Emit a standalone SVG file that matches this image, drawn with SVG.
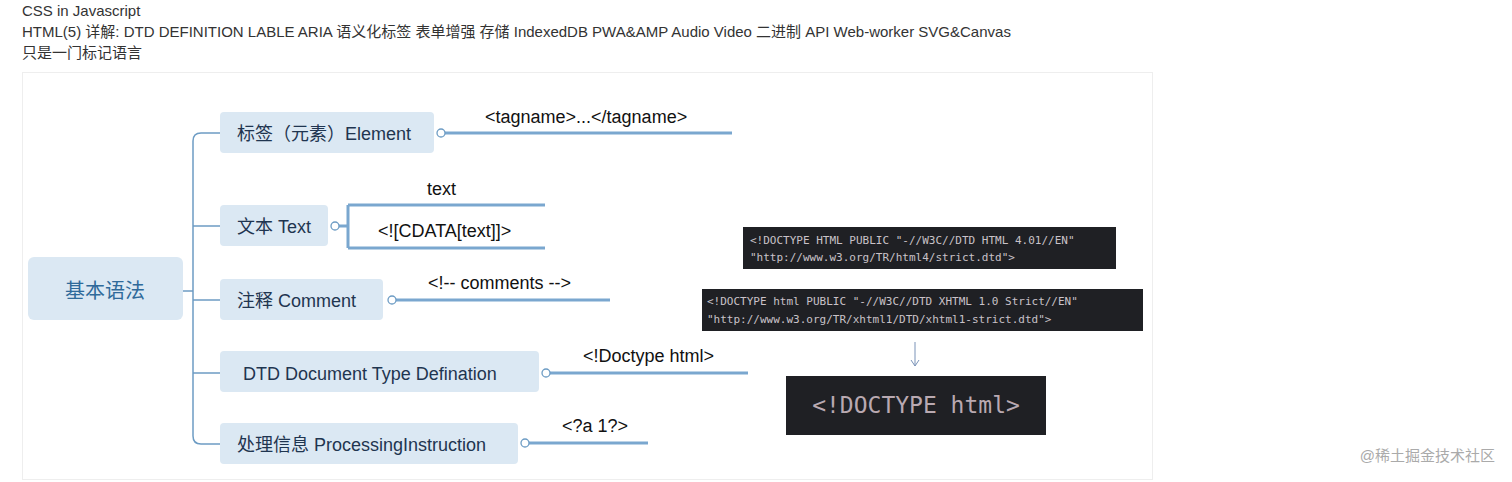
<svg xmlns="http://www.w3.org/2000/svg" width="1512" height="482" viewBox="0 0 1512 482">
<style>
.hdr{font-family:"Liberation Sans","Noto Sans CJK SC",sans-serif;font-size:15px;fill:#333}
.node{fill:#dbe8f3}
.nt{font-family:"Liberation Sans","Noto Sans CJK SC",sans-serif;font-size:18px;fill:#1f3550}
.lt{font-family:"Liberation Sans","Noto Sans CJK SC",sans-serif;font-size:18px;fill:#111}
.br{stroke:#7aa7cf;stroke-width:3;fill:none}
.tk{stroke:#6d9cc4;stroke-width:1.5;fill:none}
.dot{fill:#fff;stroke:#6d9cc4;stroke-width:1.3}
.code{fill:#1f2024}
.ct{font-family:"DejaVu Sans Mono","Liberation Mono",monospace;font-size:11px;fill:#c9c2c8}
</style>
<rect width="1512" height="482" fill="#fff"/>
<text class="hdr" x="22" y="16">CSS in Javascript</text>
<text class="hdr" x="22" y="37">HTML(5) 详解: DTD DEFINITION LABLE ARIA 语义化标签 表单增强 存储 IndexedDB PWA&amp;AMP Audio Video 二进制 API Web-worker SVG&amp;Canvas</text>
<text class="hdr" x="22" y="58">只是一门标记语言</text>
<rect x="22.5" y="72.5" width="1130" height="407" fill="#fff" stroke="#eee"/>
<g id="connectors">
<path class="tk" d="M183 291 H193 M220 133 H201 Q193 133 193 141 V436 Q193 444 201 444 H220 M193 226 Q193 226 201 226 H220 M193 300 H220 M193 373 H220"/>
<path class="br" d="M445 133 H732 M339 226 H348 M348 205 V248 M348 205 H545 M348 248 H545 M396 300 H610 M550 373 H748 M529 443 H648"/>
<circle class="dot" cx="441" cy="133" r="4"/>
<circle class="dot" cx="335" cy="226" r="4"/>
<circle class="dot" cx="392" cy="300" r="4"/>
<circle class="dot" cx="546" cy="373" r="4"/>
<circle class="dot" cx="525" cy="443" r="4"/>
<path d="M915 342 V366 M911 360 L915 366 L919 360" stroke="#7a93b8" stroke-width="1" fill="none"/>
</g>
<g id="root"><rect class="node" x="28" y="257" width="155" height="63" rx="6"/><text x="105" y="298" text-anchor="middle" font-family="Liberation Sans,Noto Sans CJK SC,sans-serif" font-size="20" fill="#2f6a9a">基本语法</text></g>
<g id="n-element"><rect class="node" x="220" y="112" width="214" height="41" rx="4"/><text class="nt" x="237" y="140">标签（元素）Element</text></g>
<g id="n-text"><rect class="node" x="220" y="205" width="108" height="41" rx="4"/><text class="nt" x="237" y="233">文本 Text</text></g>
<g id="n-comment"><rect class="node" x="220" y="279" width="163" height="41" rx="4"/><text class="nt" x="237" y="307">注释 Comment</text></g>
<g id="n-dtd"><rect class="node" x="220" y="351" width="319" height="41" rx="4"/><text class="nt" x="243" y="380">DTD Document Type Defination</text></g>
<g id="n-pi"><rect class="node" x="220" y="423" width="298" height="41" rx="4"/><text class="nt" x="237" y="451">处理信息 ProcessingInstruction</text></g>
<g id="labels">
<text class="lt" x="485" y="123">&lt;tagname&gt;...&lt;/tagname&gt;</text>
<text class="lt" x="427" y="195">text</text>
<text class="lt" x="378" y="237">&lt;![CDATA[text]]&gt;</text>
<text class="lt" x="428" y="289">&lt;!-- comments --&gt;</text>
<text class="lt" x="583" y="362">&lt;!Doctype html&gt;</text>
<text class="lt" x="562" y="432">&lt;?a 1?&gt;</text>
</g>
<g id="code1"><rect class="code" x="743" y="227" width="373" height="42"/><text class="ct" x="750" y="244">&lt;!DOCTYPE HTML PUBLIC "-//W3C//DTD HTML 4.01//EN"</text><text class="ct" x="750" y="261">"http://www.w3.org/TR/html4/strict.dtd"&gt;</text></g>
<g id="code2"><rect class="code" x="702" y="289" width="441" height="42"/><text class="ct" x="707" y="305">&lt;!DOCTYPE html PUBLIC "-//W3C//DTD XHTML 1.0 Strict//EN"</text><text class="ct" x="707" y="323">"http://www.w3.org/TR/xhtml1/DTD/xhtml1-strict.dtd"&gt;</text></g>
<g id="code3"><rect class="code" x="786" y="376" width="260" height="59"/><text x="916" y="413" text-anchor="middle" font-family="DejaVu Sans Mono,monospace" font-size="23" fill="#b9a9b1">&lt;!DOCTYPE html&gt;</text></g>
<text x="1495" y="461" text-anchor="end" font-family="Liberation Sans,Noto Sans CJK SC,sans-serif" font-size="15" fill="#aaa">@稀土掘金技术社区</text>
</svg>
